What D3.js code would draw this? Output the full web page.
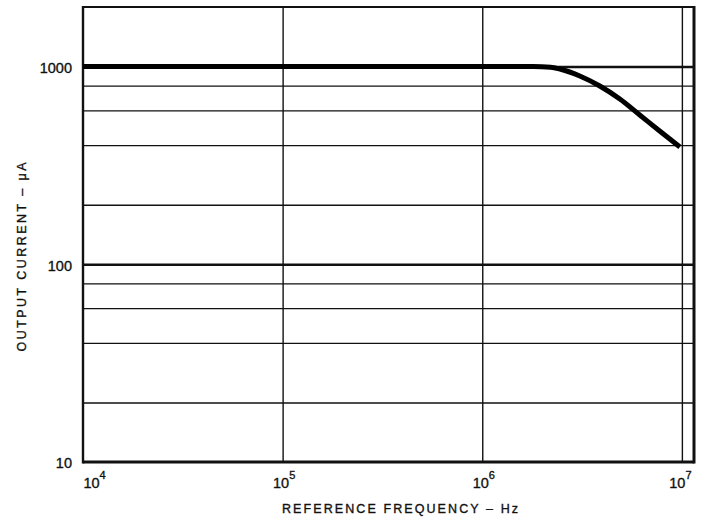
<!DOCTYPE html>
<html>
<head>
<meta charset="utf-8">
<script src="https://cdn.jsdelivr.net/npm/d3@7"></script>
<style>
  body { margin: 0; background: #fff; }
  svg { display: block; }
  text { font-family: "Liberation Sans", Arial, Helvetica, sans-serif; fill: #111; stroke: #111; stroke-width: 0.35; }
</style>
</head>
<body>
<svg id="chart" width="709" height="519"></svg>
<script>
// ---- data ----
const freqHz = [1e4, 1e5, 1e6, 1.8e6, 2.2e6, 2.45e6, 3.08e6, 3.88e6, 4.89e6, 6.15e6, 7.74e6, 9.77e6];
const currentUA = [1000, 1000, 1000, 1000, 992, 971, 895, 797, 685, 569, 472, 392];
const xTickValues = [1e4, 1e5, 1e6, 1e7];
const xTickExponents = ["4", "5", "6", "7"];
const yTickValues = [10, 100, 1000];
const yTickLabels = ["10", "100", "1000"];
const yMajorGrid = [100, 1000];
const yMinorGrid = [20, 40, 60, 80, 200, 400, 600, 800];
const xGrid = [1e5, 1e6, 1e7];
const xTitle = "REFERENCE FREQUENCY \u2013 Hz";
const yTitle = "OUTPUT CURRENT \u2013 \u03bcA";

// ---- layout ----
const svg = d3.select("#chart");
const L = 83, R = 694, T = 7, B = 462;
const x = d3.scaleLog().domain([1e4, 1.15e7]).range([L, R]);
const y = d3.scaleLog().domain([10, 2000]).range([B, T]);

// minor horizontal grid
svg.append("g").call(d3.axisLeft(y).tickValues(yMinorGrid).tickSize(-(R - L)).tickFormat(""))
  .attr("transform", `translate(${L},0)`)
  .call(g => g.select(".domain").remove())
  .call(g => g.selectAll("line").attr("stroke", "#111").attr("stroke-width", 1.3));

// major horizontal grid
svg.append("g").call(d3.axisLeft(y).tickValues(yMajorGrid).tickSize(-(R - L)).tickFormat(""))
  .attr("transform", `translate(${L},0)`)
  .call(g => g.select(".domain").remove())
  .call(g => g.selectAll("line").attr("stroke", "#111").attr("stroke-width", 2.6));

// vertical grid
svg.append("g").call(d3.axisBottom(x).tickValues(xGrid).tickSize(-(B - T)).tickFormat(""))
  .attr("transform", `translate(0,${B})`)
  .call(g => g.select(".domain").remove())
  .call(g => g.selectAll("line").attr("stroke", "#111").attr("stroke-width", 1.4));

// frame
svg.append("line").attr("x1", L).attr("x2", R).attr("y1", T).attr("y2", T).attr("stroke", "#111").attr("stroke-width", 2.2);
svg.append("line").attr("x1", L).attr("x2", R).attr("y1", B).attr("y2", B).attr("stroke", "#111").attr("stroke-width", 3);
svg.append("line").attr("x1", L).attr("x2", L).attr("y1", T - 1).attr("y2", B + 1.5).attr("stroke", "#111").attr("stroke-width", 2.4);
svg.append("line").attr("x1", R).attr("x2", R).attr("y1", T - 1).attr("y2", B + 1.5).attr("stroke", "#111").attr("stroke-width", 3);

// curve
const pts = freqHz.map((f, i) => [f, currentUA[i]]);
svg.append("path")
  .datum(pts)
  .attr("fill", "none")
  .attr("stroke", "#000")
  .attr("stroke-width", 5)
  .attr("stroke-linecap", "butt")
  .attr("d", d3.line().x(d => x(d[0])).y(d => y(d[1])).curve(d3.curveMonotoneX));

// y tick labels
const yAxis = svg.append("g").attr("transform", `translate(${L},0)`)
  .call(d3.axisLeft(y).tickValues(yTickValues).tickSize(0).tickPadding(11)
    .tickFormat((d, i) => yTickLabels[i]));
yAxis.select(".domain").remove();
yAxis.selectAll("text")
  .attr("font-size", 14.5)
  .attr("font-family", "'Liberation Sans', Arial, sans-serif")
  .attr("fill", "#111")
  .attr("dy", "0.4em");

// x tick labels with superscripts
const xAxis = svg.append("g").attr("transform", `translate(0,${B})`)
  .call(d3.axisBottom(x).tickValues(xTickValues).tickSize(0).tickFormat(""));
xAxis.select(".domain").remove();
xAxis.selectAll(".tick").each(function (d, i) {
  const t = d3.select(this).append("text")
    .attr("y", 26)
    .attr("text-anchor", "middle")
    .attr("font-family", "'Liberation Sans', Arial, sans-serif")
    .attr("fill", "#111")
    .attr("x", i === 0 ? 11 : (i === 3 ? -2 : 1));
  t.append("tspan").attr("font-size", 14.5).text("10");
  t.append("tspan").attr("font-size", 11).attr("dy", -9).text(xTickExponents[i]);
});

// axis titles
svg.append("text")
  .attr("x", 400).attr("y", 513)
  .attr("text-anchor", "middle")
  .attr("font-size", 12.5)
  .attr("textLength", 236).attr("lengthAdjust", "spacing")
  .text(xTitle);

svg.append("text")
  .attr("transform", "translate(26,257) rotate(-90)")
  .attr("text-anchor", "middle")
  .attr("font-size", 12.5)
  .attr("textLength", 189).attr("lengthAdjust", "spacing")
  .text(yTitle);
</script>
</body>
</html>
